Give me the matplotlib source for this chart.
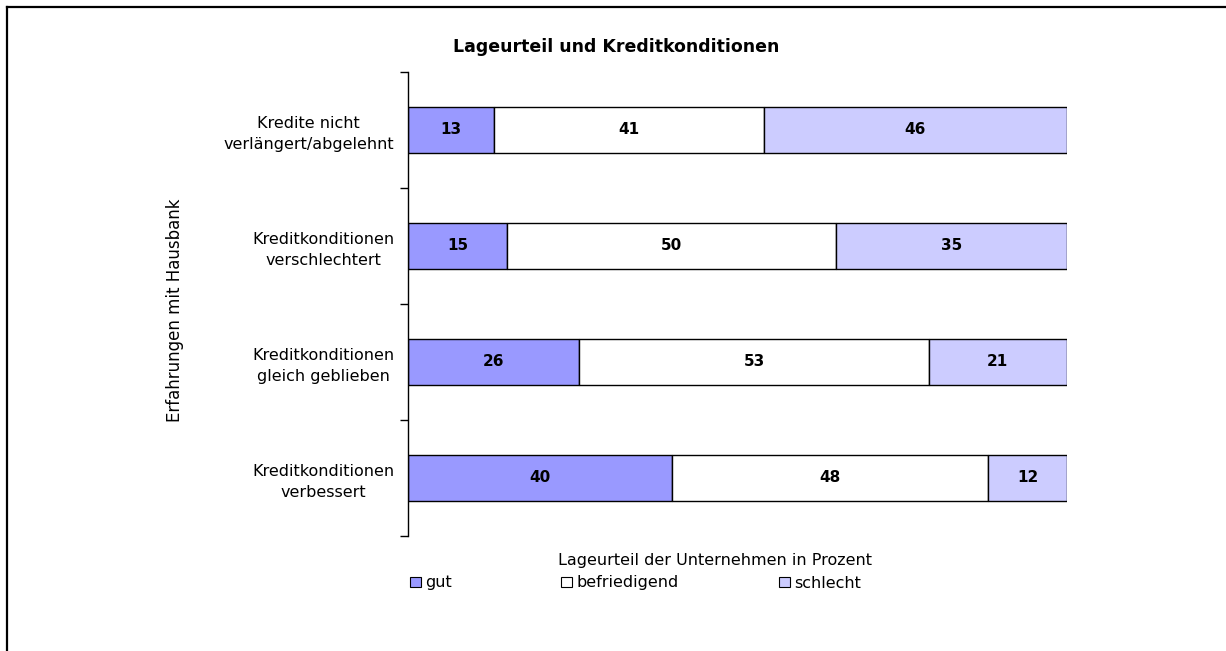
import matplotlib.pyplot as plt
from matplotlib.patches import Patch
from matplotlib.lines import Line2D
import numpy as np

plt.rcParams['font.family'] = ['DejaVu Sans']

categories = ["Kredite nicht\nverlängert/abgelehnt", "Kreditkonditionen\nverschlechtert",
              "Kreditkonditionen\ngleich geblieben", "Kreditkonditionen\nverbessert"]
series = ["gut", "befriedigend", "schlecht"]
gut = [13, 15, 26, 40]
befriedigend = [41, 50, 53, 48]
schlecht = [46, 35, 21, 12]
colors = ["#9999FF", "#FFFFFF", "#CCCCFF"]

fig = plt.figure(figsize=(12.26, 6.51), dpi=100)
ax = fig.add_axes([408 / 1226, 115 / 651, 659 / 1226, 464 / 651])

# frame: only left and top edges are visible (cropped)
fx, fy = 6.5 / 1226, 1 - 6.5 / 651
fig.lines.append(Line2D([fx, fx], [0, fy], transform=fig.transFigure, color='black', linewidth=1.6))
fig.lines.append(Line2D([fx, 1], [fy, fy], transform=fig.transFigure, color='black', linewidth=1.6))

y = np.arange(len(categories))
left = np.zeros(len(categories))
for vals, name, col in zip([gut, befriedigend, schlecht], series, colors):
    bars = ax.barh(y, vals, left=left, height=0.39, color=col, edgecolor='black', linewidth=1, label=name)
    for b, v in zip(bars, vals):
        ax.text(b.get_x() + b.get_width() / 2, b.get_y() + b.get_height() / 2, str(v),
                ha='center', va='center', fontsize=11, fontweight='bold')
    left += np.array(vals)

ax.set_xlim(0, 100)
ax.set_ylim(3.5, -0.5)
for s in ['top', 'right', 'bottom']:
    ax.spines[s].set_visible(False)
ax.spines['left'].set_linewidth(1)
ax.set_xticks([])
ax.set_yticks(np.arange(-0.5, 4, 1))
ax.set_yticklabels([])
ax.tick_params(axis='y', which='major', direction='out', length=6, width=1)
ax.set_yticks(y, minor=True)
ax.set_yticklabels(categories, minor=True, fontsize=11.5, multialignment='center', linespacing=1.45)
ax.tick_params(axis='y', which='minor', length=0, pad=10)

fig.text(616 / 1226, 1 - 47 / 651, "Lageurteil und Kreditkonditionen", ha='center', va='center',
         fontsize=12.5, fontweight='bold')
fig.text(715 / 1226, 1 - 560 / 651, "Lageurteil der Unternehmen in Prozent", ha='center', va='center',
         fontsize=11.5)
fig.text(175 / 1226, 1 - 310 / 651, "Erfahrungen mit Hausbank", ha='center', va='center',
         rotation=90, fontsize=12)

# legend entries placed individually to match the uneven spacing
legend_x = [404, 555, 773]
for name, col, lx in zip(series, colors, legend_x):
    fig.legend([Patch(facecolor=col, edgecolor='black', linewidth=0.8)], [name], loc='center left',
               bbox_to_anchor=(lx / 1226, 1 - 583 / 651), frameon=False, fontsize=11.5,
               handlelength=0.65, handleheight=0.65, handletextpad=0.3, borderaxespad=0)

fig.savefig("out.png", dpi=100)
